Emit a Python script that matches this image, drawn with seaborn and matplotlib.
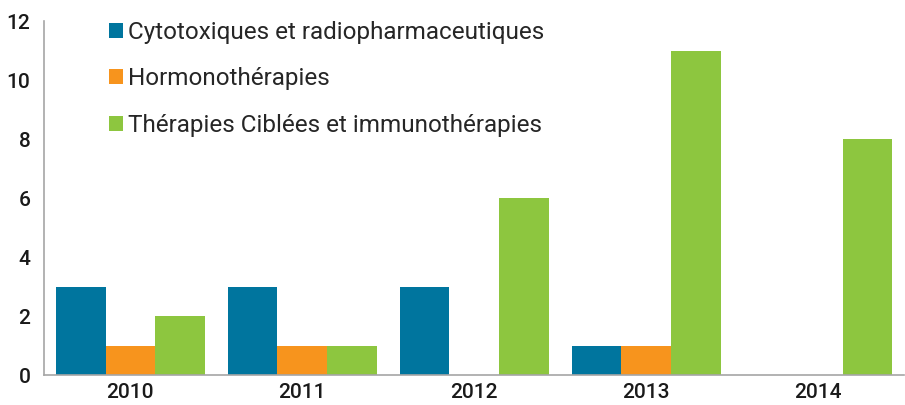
import pandas as pd
import matplotlib.pyplot as plt
import seaborn as sns
import numpy as np

years = ['2010', '2011', '2012', '2013', '2014']
cytotox = [3, 3, 3, 1, 0]
hormono = [1, 1, 0, 1, 0]
ciblees = [2, 1, 6, 11, 8]
series_names = ['Cytotoxiques et radiopharmaceutiques',
                'Hormonothérapies',
                'Thérapies Ciblées et immunothérapies']
colors = ['#00759E', '#F7941D', '#8DC63F']

df = pd.DataFrame({
    'Année': years * 3,
    'Nombre': cytotox + hormono + ciblees,
    'Classe': [series_names[0]] * 5 + [series_names[1]] * 5 + [series_names[2]] * 5,
})

sns.set_style('white')
plt.rcParams['font.family'] = ['Roboto', 'DejaVu Sans']

fig = plt.figure(figsize=(9.05, 4.05), dpi=100)
ax = fig.add_axes([0.049, 0.074, 0.95, 0.874])

sns.barplot(data=df, x='Année', y='Nombre', hue='Classe', palette=colors,
            width=0.865, saturation=1, gap=0, ax=ax, linewidth=0)

ax.set_ylim(0, 12)
ax.set_xlim(-0.5, 4.5)
ax.set_yticks(np.arange(0, 13, 2))
ax.set_xlabel('')
ax.set_ylabel('')

for s in ['top', 'right']:
    ax.spines[s].set_visible(False)
for s in ['left', 'bottom']:
    ax.spines[s].set_color('#A6A6A6')
    ax.spines[s].set_linewidth(1.2)

# ticks between categories on the x axis
ax.set_xticks(np.arange(-0.5, 4.6, 1), minor=True)
ax.tick_params(axis='x', which='major', length=0, labelsize=15, pad=6)
ax.tick_params(axis='x', which='minor', length=5, color='#A6A6A6', direction='out')
ax.tick_params(axis='y', length=5, color='#A6A6A6', direction='out', labelsize=15, pad=5)
for lab in ax.get_xticklabels() + ax.get_yticklabels():
    lab.set_color('#1a1a1a')
    lab.set_fontweight('medium')

handles, labels = ax.get_legend_handles_labels()
ax.legend(handles, labels, loc='upper left', bbox_to_anchor=(0.05, 1.063),
          frameon=False, fontsize=17.5, handlelength=0.57, handleheight=0.57,
          handletextpad=0.22, labelspacing=0.97)

plt.savefig('out.png', dpi=100)
